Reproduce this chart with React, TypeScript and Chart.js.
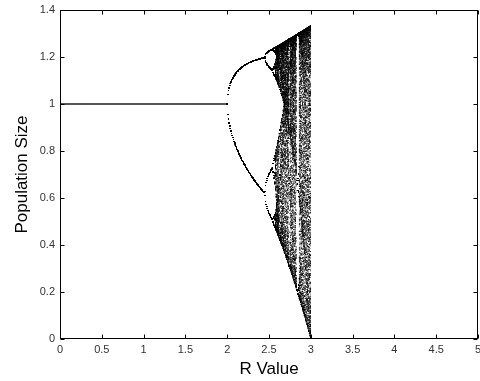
import React, { useEffect, useRef } from "react";
import { Chart, registerables } from "chart.js";

Chart.register(...registerables);

// Model parameters (discrete logistic growth: N' = N + r N (1 - N))
const R_RANGE_STABLE = [0, 2];      // fixed-point region
const R_RANGE_CHAOS = [2, 3];       // bifurcation / chaotic region
const R_STEP_STABLE = [0.005];
const R_STEP_CHAOS = [0.0075];
const START_POP = [0.999];
const TRANSIENT = [1000];
const KEPT_STABLE = [1];
const KEPT_CHAOS = [320];

const X_TICKS = [0, 0.5, 1, 1.5, 2, 2.5, 3, 3.5, 4, 4.5, 5];
const Y_TICKS = [0, 0.2, 0.4, 0.6, 0.8, 1, 1.2, 1.4];

const X_TITLE = "R Value";
const Y_TITLE = "Population Size";

function orbit(rFrom: number, rTo: number, step: number, kept: number) {
  const pts: { x: number; y: number }[] = [];
  const n = Math.round((rTo - rFrom) / step);
  for (let i = 0; i <= n; i++) {
    const r = rFrom + i * step;
    let p = START_POP[0];
    for (let k = 0; k < TRANSIENT[0]; k++) p = p + r * p * (1 - p);
    for (let k = 0; k < kept; k++) {
      p = p + r * p * (1 - p);
      pts.push({ x: r, y: p });
    }
  }
  return pts;
}

const FONT = "'Liberation Sans', Arial, Helvetica, sans-serif";
const fmt = (v: any) => String(Math.round(Number(v) * 10) / 10);

const frame = {
  id: "matlabFrame",
  afterDraw(chart: any) {
    const { ctx, chartArea, scales } = chart;
    const { left, right, top, bottom } = chartArea;
    ctx.save();
    ctx.strokeStyle = "#000";
    ctx.lineWidth = 1;
    const L = Math.round(left) + 0.5;
    const R = Math.round(right) - 0.5;
    const T = Math.round(top) + 0.5;
    const B = Math.round(bottom) - 0.5;
    ctx.strokeRect(L, T, R - L, B - T);
    ctx.beginPath();
    X_TICKS.forEach((v) => {
      const x = Math.round(scales.x.getPixelForValue(v)) + 0.5;
      ctx.moveTo(x, B);
      ctx.lineTo(x, B - 4);
      ctx.moveTo(x, T);
      ctx.lineTo(x, T + 4);
    });
    Y_TICKS.forEach((v) => {
      const y = Math.round(scales.y.getPixelForValue(v)) + 0.5;
      ctx.moveTo(L, y);
      ctx.lineTo(L + 4, y);
      ctx.moveTo(R, y);
      ctx.lineTo(R - 4, y);
    });
    ctx.stroke();
    ctx.restore();
  },
};

export default function App() {
  const ref = useRef<HTMLCanvasElement | null>(null);
  useEffect(() => {
    document.body.style.margin = "0";
    const data = [
      ...orbit(R_RANGE_STABLE[0], R_RANGE_STABLE[1], R_STEP_STABLE[0], KEPT_STABLE[0]),
      ...orbit(R_RANGE_CHAOS[0], R_RANGE_CHAOS[1], R_STEP_CHAOS[0], KEPT_CHAOS[0]),
    ];
    const chart = new Chart(ref.current as HTMLCanvasElement, {
      type: "scatter",
      data: {
        datasets: [
          {
            data,
            pointRadius: 0.55,
            pointStyle: "rect",
            borderWidth: 0,
            backgroundColor: "#000",
            pointHoverRadius: 0,
          } as any,
        ],
      },
      plugins: [frame],
      options: {
        animation: false,
        responsive: false,
        events: [],
        layout: { padding: { top: 10, right: 2, left: 0, bottom: 0 } },
        plugins: { legend: { display: false }, tooltip: { enabled: false } },
        scales: {
          x: {
            type: "linear",
            min: 0,
            max: 5,
            afterBuildTicks: (s: any) => {
              s.ticks = X_TICKS.map((v) => ({ value: v }));
            },
            afterFit: (s: any) => {
              s.height = 42;
              s.paddingRight = 0;
              s.paddingLeft = 0;
            },
            grid: { display: false, drawTicks: false },
            border: { display: false },
            ticks: {
              padding: 4,
              color: "#333",
              font: { family: FONT, size: 11 },
              maxRotation: 0,
              autoSkip: false,
              callback: fmt,
            },
            title: {
              display: true,
              text: X_TITLE,
              color: "#000",
              font: { family: FONT, size: 17 },
              padding: { top: 0, bottom: 1 },
            },
          },
          y: {
            type: "linear",
            min: 0,
            max: 1.4,
            afterBuildTicks: (s: any) => {
              s.ticks = Y_TICKS.map((v) => ({ value: v }));
            },
            afterFit: (s: any) => {
              s.width = 60;
              s.paddingTop = 0;
              s.paddingBottom = 0;
            },
            grid: { display: false, drawTicks: false },
            border: { display: false },
            ticks: {
              padding: 5,
              color: "#333",
              font: { family: FONT, size: 11 },
              autoSkip: false,
              callback: fmt,
            },
            title: {
              display: true,
              text: Y_TITLE,
              color: "#000",
              font: { family: FONT, size: 17 },
              padding: { top: 12, bottom: 0 },
            },
          },
        },
      },
    });
    return () => chart.destroy();
  }, []);
  return <canvas ref={ref} width={480} height={381} style={{ display: "block" }} />;
}
